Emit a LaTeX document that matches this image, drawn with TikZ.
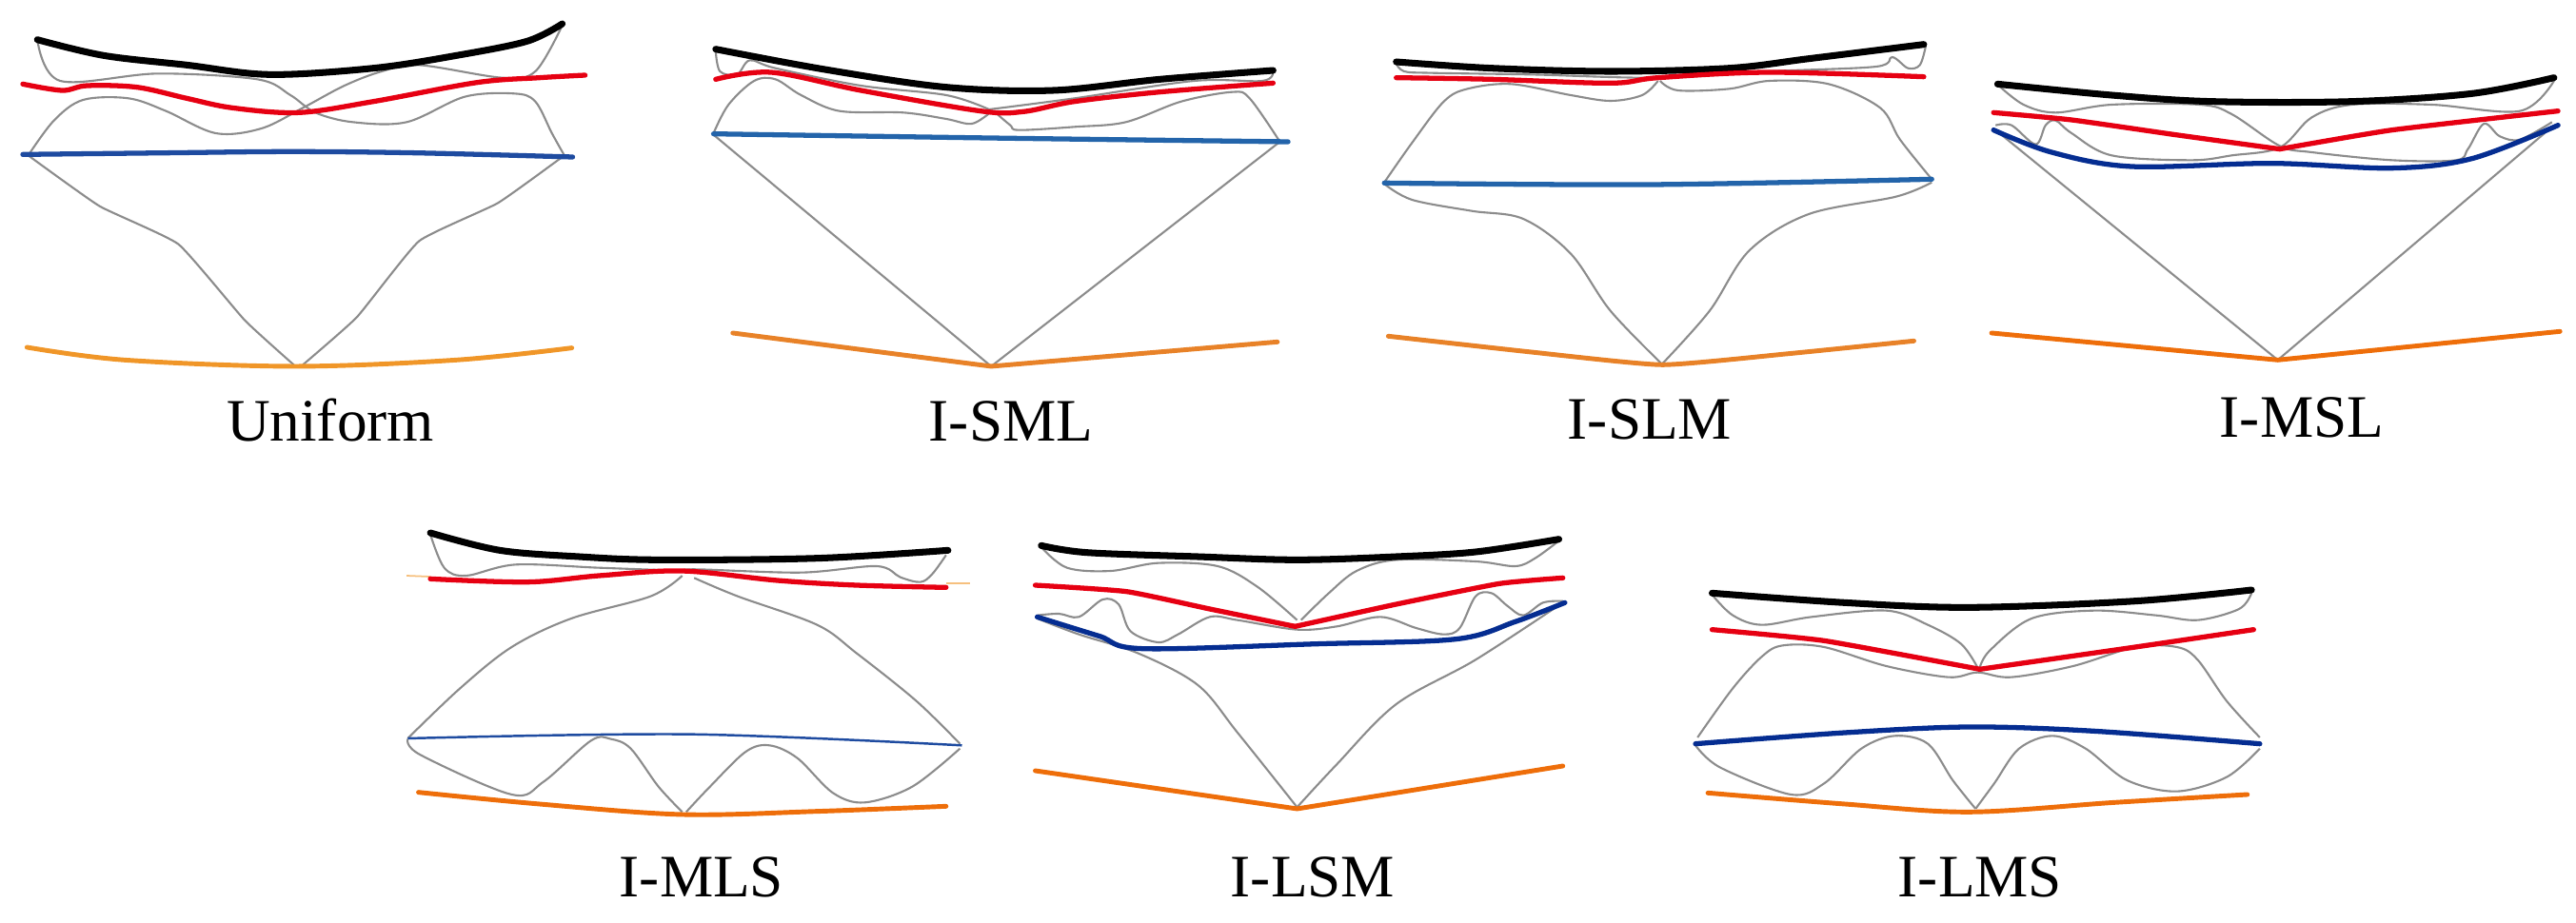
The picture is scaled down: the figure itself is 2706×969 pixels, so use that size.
\documentclass[tikz,border=0pt]{standalone}
\usepackage{fontspec}
\setmainfont{Liberation Serif}
\definecolor{cred}{RGB}{230,0,18}
\definecolor{cblueA}{RGB}{30,75,160}
\definecolor{cblueB}{RGB}{35,100,170}
\definecolor{cblueC}{RGB}{5,45,145}
\definecolor{corA}{RGB}{240,150,40}
\definecolor{corB}{RGB}{232,130,40}
\definecolor{corC}{RGB}{238,110,10}
\definecolor{cgray}{RGB}{140,140,140}
\begin{document}
\begin{tikzpicture}[x=0.01cm,y=-0.01cm,
  gr/.style={line width=0.6pt,cgray,line join=round},
  blk/.style={line width=2pt,black,line cap=round,line join=round},
  rd/.style={line width=1.5pt,cred,line cap=round,line join=round},
  bl/.style={line width=1.5pt,line cap=round,line join=round},
  orl/.style={line width=1.4pt,line cap=round,line join=round},
  lab/.style={anchor=base,inner sep=0pt,font=\fontsize{18}{20}\selectfont},
  sm/.style={smooth,tension=0.55}]
\useasboundingbox (0,0) rectangle (2706,969);

% ---------------- Panel 1 : Uniform
\begin{scope}[shift={(0,0)},xscale=0.4359,yscale=0.3333]
\draw[gr] plot[smooth,tension=0.25] coordinates {(68,490)(240,650)(430,770)(590,1010)(712,1155)};
\draw[gr] plot[smooth,tension=0.25] coordinates {(730,1150)(860,1000)(1010,760)(1200,640)(1360,490)};
\draw[gr] plot[sm] coordinates {(90,125)(145,255)(380,232)(620,250)(700,300)(760,355)(850,385)(980,385)(1120,305)(1240,295)(1290,320)(1330,420)(1360,490)};
\draw[gr] plot[sm] coordinates {(68,490)(130,380)(200,315)(310,310)(400,350)(520,420)(630,405)(730,340)(830,270)(920,225)(1010,205)(1210,245)(1290,225)(1355,80)};
\draw[blk] plot[sm] coordinates {(90,125)(250,175)(450,205)(650,235)(900,215)(1100,175)(1270,130)(1355,75)};
\draw[rd] plot[sm] coordinates {(55,265)(150,285)(210,270)(330,275)(450,310)(560,340)(720,355)(900,320)(1150,260)(1300,245)(1410,237)};
\draw[bl,cblueA] plot[sm] coordinates {(55,487)(400,482)(700,478)(1000,482)(1380,495)};
\draw[orl,corA] plot[sm] coordinates {(65,1095)(300,1135)(710,1155)(1100,1135)(1378,1097)};
\end{scope}

% ---------------- Panel 2 : I-SML
\begin{scope}[shift={(680,0)},xscale=0.4487,yscale=0.3333]
\draw[gr] (155,425) -- (805,1155) -- (1478,450);
\draw[gr] plot[sm] coordinates {(160,160)(170,225)(210,235)(240,190)(300,215)(500,270)(700,300)(800,345)};
\draw[gr] plot[sm] coordinates {(800,345)(1000,310)(1280,255)(1440,255)(1465,225)};
\draw[gr] plot[sm] coordinates {(155,420)(190,330)(250,255)(300,250)(360,300)(450,350)(600,355)(700,375)(760,390)(805,352)};
\draw[gr] plot[sm] coordinates {(815,355)(850,395)(870,410)(1000,400)(1120,385)(1250,320)(1370,290)(1410,310)(1480,445)};
\draw[blk] plot[sm] coordinates {(160,155)(420,220)(700,275)(950,285)(1200,250)(1465,222)};
\draw[rd] plot[sm] coordinates {(160,250)(290,228)(500,285)(780,350)(880,352)(1000,320)(1200,290)(1465,262)};
\draw[bl,cblueB] plot[sm] coordinates {(155,422)(800,435)(1500,447)};
\draw[orl,corB] (200,1050) -- (805,1155) -- (1475,1078);
\end{scope}

% ---------------- Panel 3 : I-SLM
\begin{scope}[shift={(1400,0)},xscale=0.4167,yscale=0.3333]
\draw[gr] plot[sm] coordinates {(130,575)(200,450)(280,320)(340,280)(450,265)(600,300)(700,318)(780,300)(820,255)};
\draw[gr] plot[sm] coordinates {(825,255)(870,285)(1000,280)(1100,255)(1250,265)(1380,340)(1430,440)(1510,565)};
\draw[gr] plot[sm] coordinates {(130,580)(200,630)(350,665)(480,690)(600,800)(700,980)(830,1148)};
\draw[gr] plot[sm] coordinates {(830,1148)(950,980)(1050,790)(1200,675)(1420,620)(1510,575)};
\draw[gr] plot[sm] coordinates {(160,200)(180,225)(250,230)(500,235)(820,245)(1100,225)(1370,210)(1410,180)(1450,215)(1480,205)(1495,145)};
\draw[blk] plot[sm] coordinates {(160,195)(400,215)(700,225)(1000,215)(1200,185)(1490,140)};
\draw[rd] plot[sm] coordinates {(160,245)(400,250)(700,262)(820,245)(1100,228)(1490,242)};
\draw[bl,cblueB] plot[sm] coordinates {(130,577)(800,582)(1510,565)};
\draw[orl,corB] plot[smooth,tension=0.3] coordinates {(140,1060)(500,1110)(830,1150)(1150,1115)(1465,1075)};
\end{scope}

% ---------------- Panel 4 : I-MSL
\begin{scope}[shift={(2050,0)},xscale=0.4205,yscale=0.3333]
\draw[gr] (115,415) -- (815,1135) -- (1500,400);
\draw[gr] plot[sm] coordinates {(118,270)(180,330)(260,355)(400,330)(620,330)(700,360)(820,460)(900,480)(1100,505)(1260,505)(1290,470)(1330,390)(1370,430)(1420,440)(1500,385)};
\draw[gr] plot[sm] coordinates {(110,395)(150,395)(210,455)(235,395)(260,380)(300,420)(400,490)(600,505)(700,490)(820,465)(900,370)(1000,330)(1200,330)(1420,350)(1505,255)};
\draw[blk] plot[sm] coordinates {(115,265)(400,300)(650,320)(1000,320)(1300,295)(1505,245)};
\draw[rd] plot[smooth,tension=0.3] coordinates {(105,355)(300,378)(560,425)(820,470)};
\draw[rd] plot[smooth,tension=0.3] coordinates {(820,470)(1100,410)(1515,350)};
\draw[bl,cblueC] plot[sm] coordinates {(105,410)(250,480)(450,525)(800,515)(1100,530)(1300,500)(1515,395)};
\draw[orl,corC] (100,1050) -- (815,1135) -- (1520,1045);
\end{scope}

% ---------------- Panel 5 : I-MLS
\begin{scope}[shift={(400,520)},xscale=0.4167,yscale=0.3333]
\draw[gr] plot[sm] coordinates {(125,125)(160,230)(215,255)(340,220)(550,230)(740,238)(800,235)(1060,245)(1250,225)(1310,260)(1360,275)(1390,250)(1425,190)};
\draw[gr] plot[sm] coordinates {(68,768)(200,610)(330,480)(480,390)(680,320)(760,255)};
\draw[gr] plot[sm] coordinates {(790,262)(900,320)(1100,410)(1200,500)(1350,650)(1460,785)};
\draw[gr] plot[sm] coordinates {(68,770)(100,820)(330,945)(410,905)(530,775)(580,770)(630,800)(700,920)(760,1000)};
\draw[gr] plot[sm] coordinates {(770,1000)(830,920)(920,810)(980,790)(1050,830)(1140,940)(1220,970)(1340,920)(1460,800)};
\draw[line width=0.5pt,corA!60] (65,255) -- (125,258);
\draw[line width=0.5pt,corA!60] (1425,280) -- (1485,280);
\draw[blk] plot[sm] coordinates {(125,120)(300,175)(500,195)(700,205)(1100,200)(1430,175)};
\draw[rd] plot[sm] coordinates {(125,265)(370,275)(550,255)(760,240)(1000,270)(1200,285)(1425,292)};
\draw[line width=0.7pt,cblueA] plot[sm] coordinates {(68,768)(780,755)(1465,790)};
\draw[orl,corC] plot[sm] coordinates {(95,938)(400,975)(760,1008)(1100,998)(1425,982)};
\end{scope}

% ---------------- Panel 6 : I-LSM
\begin{scope}[shift={(1050,520)},xscale=0.4167,yscale=0.3333]
\draw[gr] plot[sm] coordinates {(105,165)(170,230)(280,240)(400,215)(550,225)(650,290)(750,395)};
\draw[gr] plot[sm] coordinates {(760,395)(830,310)(900,240)(1000,205)(1200,210)(1300,225)(1350,200)(1410,145)};
\draw[gr] plot[sm] coordinates {(95,380)(150,375)(200,385)(260,330)(300,345)(330,430)(400,465)(450,440)(530,385)(600,395)(750,425)(850,415)(960,385)(1050,420)(1120,440)(1160,420)(1200,320)(1240,310)(1280,350)(1320,380)(1370,340)(1420,335)};
\draw[gr] plot[sm] coordinates {(95,390)(200,440)(350,500)(500,600)(600,750)(750,985)};
\draw[gr] plot[sm] coordinates {(750,985)(850,850)(1000,660)(1200,520)(1420,340)};
\draw[blk] plot[sm] coordinates {(105,160)(220,182)(500,195)(750,205)(1000,195)(1200,180)(1410,140)};
\draw[rd] plot[smooth,tension=0.3] coordinates {(90,285)(320,305)(530,360)(745,415)};
\draw[rd] plot[smooth,tension=0.3] coordinates {(745,415)(1000,345)(1260,280)(1420,262)};
\draw[bl,cblueC] plot[sm] coordinates {(95,385)(250,445)(360,485)(800,470)(1150,455)(1300,400)(1425,340)};
\draw[orl,corC] (90,870) -- (750,990) -- (1420,855);
\end{scope}

% ---------------- Panel 7 : I-LMS
\begin{scope}[shift={(1720,560)},xscale=0.4359,yscale=0.3333]
\draw[gr] plot[sm] coordinates {(180,195)(230,260)(300,290)(420,265)(600,245)(700,290)(780,350)(820,425)};
\draw[gr] plot[sm] coordinates {(825,425)(850,370)(950,270)(1100,245)(1250,260)(1350,275)(1450,240)(1480,190)};
\draw[gr] plot[sm] coordinates {(145,645)(230,490)(300,390)(350,355)(450,360)(600,420)(750,455)(820,440)(900,455)(1050,420)(1200,360)(1300,360)(1350,400)(1420,530)(1500,645)};
\draw[gr] plot[sm] coordinates {(140,670)(200,740)(370,825)(450,790)(540,680)(620,640)(700,665)(760,780)(815,870)};
\draw[gr] plot[sm] coordinates {(815,870)(860,790)(920,680)(1000,640)(1080,680)(1180,780)(1300,815)(1420,770)(1500,680)};
\draw[blk] plot[sm] coordinates {(180,190)(500,220)(800,235)(1200,215)(1480,180)};
\draw[rd] plot[smooth,tension=0.3] coordinates {(180,305)(450,340)(825,430)};
\draw[rd] plot[smooth,tension=0.3] coordinates {(825,430)(1200,360)(1485,305)};
\draw[bl,cblueC] plot[sm] coordinates {(140,665)(500,630)(800,612)(1100,625)(1500,665)};
\draw[orl,corC] plot[sm] coordinates {(170,820)(500,855)(800,880)(1150,850)(1470,825)};
\end{scope}

% ---------------- Labels
\node[lab] (lUni) at (347,463) {Uniform};
\node[lab] (lSML) at (1062,463) {I-SML};
\node[lab] (lSLM) at (1733,461) {I-SLM};
\node[lab] (lMSL) at (2418,459) {I-MSL};
\node[lab] (lMLS) at (737,942) {I-MLS};
\node[lab] (lLSM) at (1379,942) {I-LSM};
\node[lab] (lLMS) at (2080,942) {I-LMS};
\end{tikzpicture}
\end{document}
